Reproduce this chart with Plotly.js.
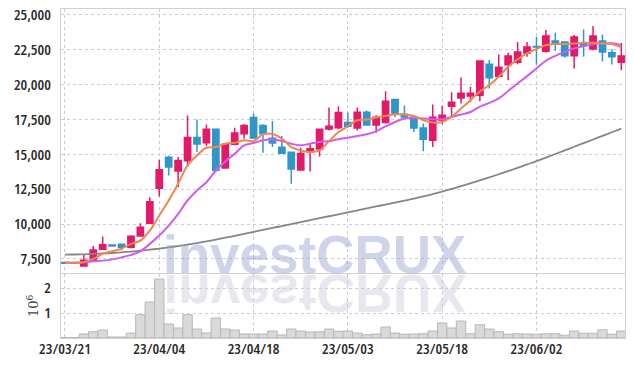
<!DOCTYPE html>
<html>
<head>
<meta charset="utf-8">
<script src="https://cdn.plot.ly/plotly-3.0.1.min.js"></script>
<style>
html,body{margin:0;padding:0;background:#fff;}
#chart{width:634px;height:366px;}
.main-svg .xtick text, .main-svg .ytick text, .main-svg .y2tick text { font-stretch: 75% !important; }
</style>
</head>
<body>
<div id="chart"></div>
<script>
const dates = ["23/03/21","23/03/22","23/03/23","23/03/24","23/03/27","23/03/28","23/03/29","23/03/30","23/03/31","23/04/03",
"23/04/04","23/04/05","23/04/06","23/04/07","23/04/10","23/04/11","23/04/12","23/04/13","23/04/14","23/04/17",
"23/04/18","23/04/19","23/04/20","23/04/21","23/04/24","23/04/25","23/04/26","23/04/27","23/04/28","23/05/02",
"23/05/03","23/05/04","23/05/08","23/05/09","23/05/10","23/05/11","23/05/12","23/05/15","23/05/16","23/05/17",
"23/05/18","23/05/19","23/05/22","23/05/23","23/05/24","23/05/25","23/05/26","23/05/30","23/05/31","23/06/01",
"23/06/02","23/06/05","23/06/07","23/06/08","23/06/09","23/06/12","23/06/13","23/06/14","23/06/15","23/06/16"];

const openP  = [7250,7220,7000,7400,8200,8500,8550,8340,9150,10060,
12570,14780,13800,14540,16200,15830,16790,14010,15710,16480,
17630,17070,16140,15500,15140,13870,15210,15380,16810,16910,
17270,16880,18010,17100,17270,18920,17860,17670,16880,16000,
17440,18440,19040,19180,19230,21460,20600,21410,21600,22250,
22720,22390,23110,23040,22060,22990,22535,23110,22270,21600];
const highP  = [7280,7250,7780,8430,9100,8530,8580,9200,10060,11920,
14600,14900,14800,17770,17490,17130,16800,15750,16910,17170,
17920,17150,17390,16310,15200,15470,15800,16830,18350,18440,
17990,18350,18130,17800,19520,18950,18490,17700,17200,18560,
18460,19450,20500,19830,21700,21750,22150,22270,23040,23040,
23420,23900,23710,23100,23540,23950,24190,23590,22520,22990];
const lowP   = [7170,7150,6980,7380,8180,8380,8100,8250,9120,10000,
11980,13480,12640,14080,15160,15600,13720,14000,15650,16120,
16100,15110,15520,15050,12890,13850,13770,14850,16700,16800,
16900,16700,17050,16550,17200,17670,17600,16590,15210,15520,
17150,17670,18640,18730,18800,19710,20550,20310,21460,21990,
21440,22270,22410,21940,21150,21990,22460,21650,21440,21030];
const closeP = [7200,7190,7400,8150,8520,8420,8340,9120,9770,11600,
13900,14080,14560,16200,15730,16790,13850,15710,16520,17070,
16170,16480,15810,15070,13940,15060,15400,16790,17000,17990,
17010,18010,17100,17650,18800,17920,17680,16880,16070,17650,
17800,18730,19370,19375,21680,20480,21245,22050,22320,22680,
22690,23470,22970,22060,23400,22780,23470,22320,21990,22050];

const ma5 = [7230,7230,7270,7500,7860,8050,8240,8580,8815,9530,
10610,11690,12890,14200,14920,15470,15520,15760,15830,16000,
15950,16430,16450,16120,15520,15280,15160,15280,15950,16580,
17005,17435,17485,17630,17745,17865,17845,17745,17435,17270,
17315,17670,18275,18870,19500,19950,20550,21265,21800,22230,
22540,22820,22900,22900,22945,22990,22990,22945,22900,22660];
const ma20 = [7230,7230,7255,7330,7380,7470,7615,7790,8050,8580,
9175,9890,10730,11690,12405,13000,13840,14490,15040,15640,
15805,16000,16070,15950,15760,15640,15760,15880,15950,16080,
16190,16310,16430,16645,17005,17315,17560,17600,17560,17510,
17510,17670,17845,18030,18420,18680,19000,19540,20070,20600,
21150,21700,22055,22340,22590,22750,22875,22950,22950,22820];
const ma60 = [7810,7818,7834,7857,7889,7928,7976,8031,8094,8165,
8244,8331,8425,8528,8638,8756,8883,9020,9160,9300,
9440,9580,9720,9860,10000,10140,10280,10420,10560,10700,
10840,10980,11120,11260,11400,11540,11680,11820,11980,12150,
12330,12520,12720,12920,13130,13350,13570,13800,14030,14270,
14510,14765,15020,15280,15540,15800,16060,16320,16580,16840];

const volume = [0.02,0.02,0.16,0.25,0.32,0.04,0.04,0.20,0.93,1.44,
2.36,0.56,0.40,0.93,0.36,0.20,0.80,0.36,0.32,0.16,
0.16,0.16,0.28,0.12,0.36,0.28,0.24,0.25,0.36,0.27,
0.28,0.20,0.13,0.16,0.44,0.20,0.15,0.16,0.17,0.28,
0.60,0.40,0.68,0.17,0.53,0.36,0.25,0.15,0.17,0.16,
0.15,0.17,0.17,0.11,0.28,0.19,0.19,0.33,0.15,0.28].map(v => v * 1e6);

const xTicks = ["23/03/21","23/04/04","23/04/18","23/05/03","23/05/18","23/06/02"];
const priceTicks = [7500,10000,12500,15000,17500,20000,22500,25000];
const volTicks = [1e6, 2e6];
const volTickText = ["1","2"];

const tickFont = {family: "Open Sans, Roboto, sans-serif", size: 15, color: "#2a2a2a", weight: 600};
const gridCol = "#c9ccdc";
const lineCol = "#d0d0d0";

const traces = [
  {type: "bar", x: dates, y: volume, xaxis: "x", yaxis: "y2",
   marker: {color: "#d9d9d9", line: {color: "#b8b8b8", width: 1}}, hoverinfo: "skip"},
  {type: "candlestick", x: dates, open: openP, high: highP, low: lowP, close: closeP,
   xaxis: "x", yaxis: "y",
   increasing: {line: {color: "#E3196A", width: 1.5}, fillcolor: "#E3196A"},
   decreasing: {line: {color: "#2E96C8", width: 1.5}, fillcolor: "#2E96C8"}},
  {type: "scatter", mode: "lines", x: dates, y: ma60, xaxis: "x", yaxis: "y",
   line: {color: "#868686", width: 1.8, shape: "spline"}},
  {type: "scatter", mode: "lines", x: dates, y: ma20, xaxis: "x", yaxis: "y",
   line: {color: "#CF5BF0", width: 2, shape: "spline"}},
  {type: "scatter", mode: "lines", x: dates, y: ma5, xaxis: "x", yaxis: "y",
   line: {color: "#F0874E", width: 2, shape: "spline"}}
];

const layout = {
  width: 634, height: 366,
  margin: {l: 61, r: 9, t: 9, b: 28},
  paper_bgcolor: "#fff", plot_bgcolor: "#fff",
  showlegend: false,
  bargap: 0,
  boxgap: 0.05,
  xaxis: {type: "category", range: [-0.42, 59.39], anchor: "y2",
    tickvals: xTicks, ticktext: xTicks, tickfont: tickFont,
    showgrid: true, gridcolor: gridCol, griddash: "dot", gridwidth: 1,
    showline: true, linecolor: lineCol, mirror: "all", ticks: "", ticklabelstandoff: -3,
    rangeslider: {visible: false}, zeroline: false},
  yaxis: {domain: [0.197, 1], range: [6480, 25410], tickvals: priceTicks, tickformat: ",d",
    tickfont: tickFont, showgrid: true, gridcolor: gridCol, griddash: "dot",
    showline: true, linecolor: lineCol, mirror: true, ticks: "", ticklabelstandoff: 6, zeroline: false},
  yaxis2: {domain: [0, 0.196], range: [0, 2.58e6], tickvals: volTicks, ticktext: volTickText,
    tickfont: tickFont, showgrid: true, gridcolor: gridCol, griddash: "dot",
    showline: true, linecolor: lineCol, mirror: true, ticks: "", ticklabelstandoff: 6, zeroline: false,
    title: {text: "10<sup>6</sup>", font: {family: "DejaVu Serif, serif", size: 13, color: "#444"}, standoff: 0}},
  annotations: [{
    text: "investCRUX", xref: "paper", yref: "paper", x: 0.449, y: 0.157,
    xanchor: "center", yanchor: "bottom", showarrow: false,
    font: {family: "Liberation Sans, Arial, sans-serif", size: 53, weight: "bold", color: "rgba(150,160,205,0.45)"}
  }]
};

Plotly.newPlot("chart", traces, layout, {displayModeBar: false, staticPlot: true}).then(gd => {
  const svg = gd.querySelector(".main-svg");
  const ns = "http://www.w3.org/2000/svg";
  const base = 275;
  const t = document.createElementNS(ns, "text");
  t.textContent = "investCRUX";
  t.setAttribute("x", 315);
  t.setAttribute("y", base);
  t.setAttribute("text-anchor", "middle");
  t.setAttribute("transform", "translate(0," + (2 * base) + ") scale(1,-1)");
  t.setAttribute("style", "font-family:'Liberation Sans',Arial,sans-serif;font-size:53px;font-weight:bold;fill:rgba(170,172,205,0.28)");
  const cart = svg.querySelector(".cartesianlayer");
  svg.insertBefore(t, cart);
});
</script>
</body>
</html>
